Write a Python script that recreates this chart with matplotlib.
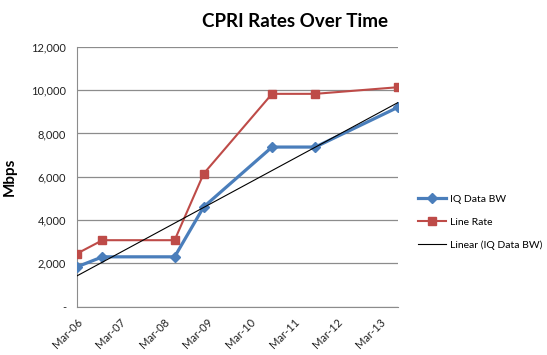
import numpy as np
import matplotlib
matplotlib.use("Agg")
import matplotlib.pyplot as plt
import matplotlib.dates as mdates
from matplotlib.ticker import FuncFormatter
from datetime import date

plt.rcParams['font.family'] = ['Lato', 'DejaVu Sans']

dates = [date(2006, 3, 1), date(2006, 10, 1), date(2008, 6, 1), date(2009, 2, 1),
         date(2010, 9, 1), date(2011, 9, 1), date(2013, 8, 1)]
iq_bw = [1843.2, 2304, 2304, 4608, 7372.8, 7372.8, 9216]
line_rate = [2457.6, 3072, 3072, 6144, 9830.4, 9830.4, 10137.6]
tick_dates = [date(y, 3, 1) for y in range(2006, 2014)]

fig = plt.figure(figsize=(5.47, 3.55), dpi=100)
ax = fig.add_axes([0.141, 0.136, 0.587, 0.732])

x = mdates.date2num(dates)
ax.plot(x, iq_bw, color='#4A7EBB', lw=2.3, marker='D', ms=5.5, label='IQ Data BW', zorder=4)
ax.plot(x, line_rate, color='#BE4B48', lw=1.5, marker='s', ms=5.5, label='Line Rate', zorder=3)

# linear trendline through the IQ series
k, b = np.polyfit(x, iq_bw, 1)
ax.plot(x[[0, -1]], k * x[[0, -1]] + b, color='black', lw=0.8, label='Linear (IQ Data BW)', zorder=5)

ax.set_xlim(x[0], x[-1])
ax.set_ylim(0, 12000)
ax.set_yticks(range(0, 12001, 2000))
ax.yaxis.set_major_formatter(FuncFormatter(lambda v, p: '-' if v == 0 else f'{int(v):,}'))
ax.set_xticks(mdates.date2num(tick_dates))
ax.set_xticklabels([d.strftime('Mar-%y') for d in tick_dates], rotation=45, ha='right',
                   rotation_mode='anchor')
ax.tick_params(length=0, labelsize=8, colors='#222222')
ax.tick_params(axis='y', pad=8)
ax.tick_params(axis='x', pad=7)

ax.grid(axis='y', color='#8c8c8c', lw=0.9)
ax.set_axisbelow(True)
for s in ['top', 'right']:
    ax.spines[s].set_visible(False)
for s in ['left', 'bottom']:
    ax.spines[s].set_color('#8c8c8c')

ax.set_ylabel('Mbps', fontsize=11, fontweight='bold', labelpad=10)
fig.text(0.54, 0.925, 'CPRI Rates Over Time', ha='center', fontsize=13.5, fontweight='bold')

ax.legend(loc='center left', bbox_to_anchor=(1.05, 0.326), frameon=False, fontsize=7.5,
          handlelength=2.6, handletextpad=0.4, labelspacing=1.3, borderaxespad=0)

fig.savefig('out.png', dpi=100)
